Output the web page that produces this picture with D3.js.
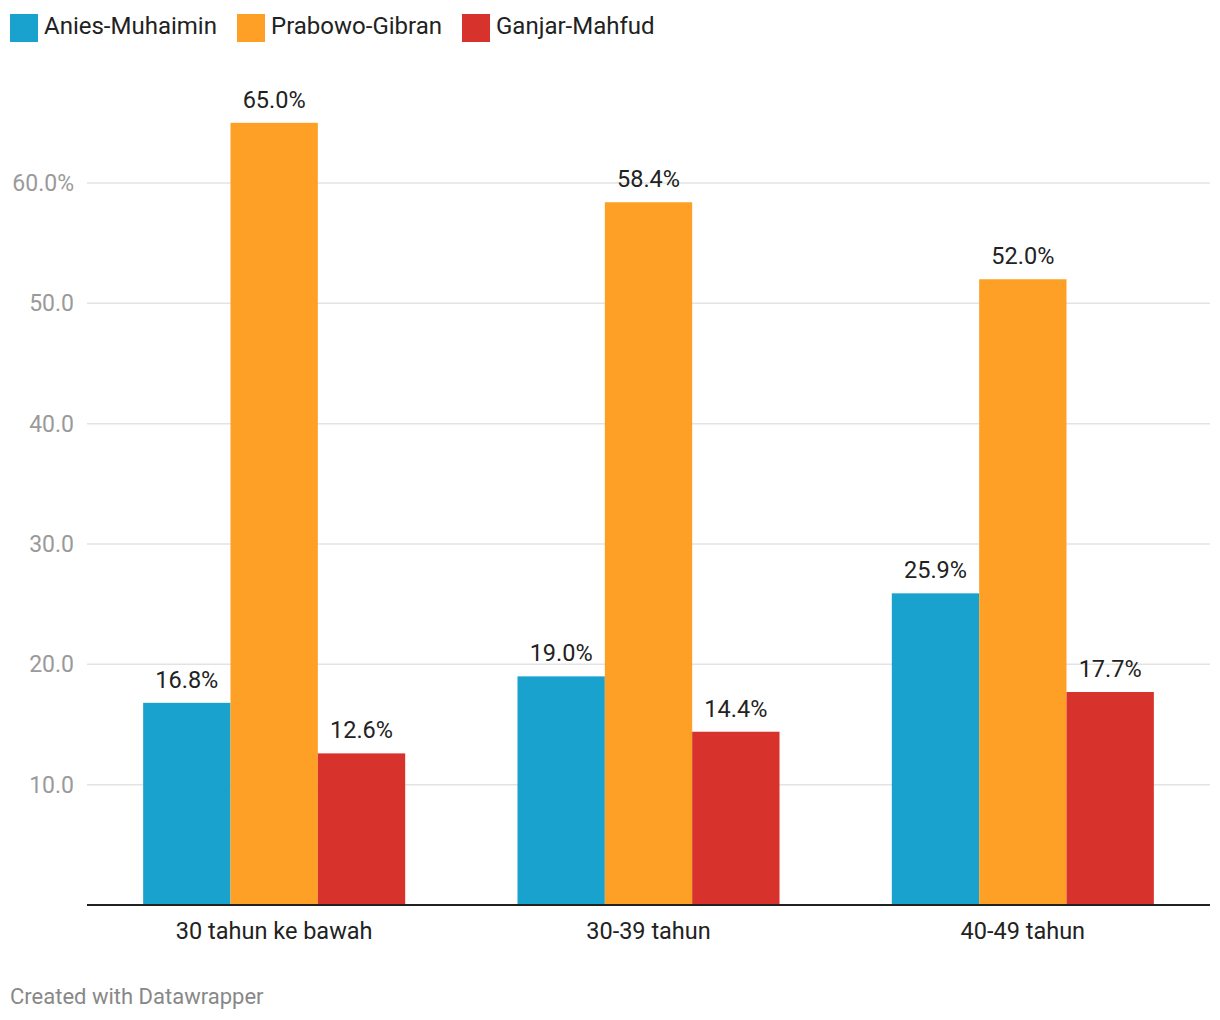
<!DOCTYPE html>
<meta charset="utf-8">
<script src="https://d3js.org/d3.v7.min.js"></script>
<style>
  body { margin: 0; background: #fff; }
  text { font-family: Roboto, "Noto Sans", sans-serif; }
</style>
<div id="chart"></div>
<script>

// data
var groups = ["30 tahun ke bawah", "30-39 tahun", "40-49 tahun"];
var series = ["Anies-Muhaimin", "Prabowo-Gibran", "Ganjar-Mahfud"];
var colors = ["#1aa2ce", "#fea026", "#d8322c"];
var anies = [16.8, 19.0, 25.9];
var prabowo = [65.0, 58.4, 52.0];
var ganjar = [12.6, 14.4, 17.7];
var yTicks = [10, 20, 30, 40, 50, 60];

var values = [anies, prabowo, ganjar];

var W = 1220, H = 1020;
var margin = {top: 0, left: 87, right: 10};
var plotBottom = 905;

var svg = d3.select("#chart").append("svg")
  .attr("width", W)
  .attr("height", H);

// legend
var lx = [10, 237, 462];
var legend = svg.selectAll(".leg")
  .data(series)
  .enter().append("g")
  .attr("transform", function(d, i) { return "translate(" + lx[i] + ",14)"; });
legend.append("rect")
  .attr("width", 28).attr("height", 28)
  .attr("fill", function(d, i) { return colors[i]; });
legend.append("text")
  .attr("x", 34).attr("y", 20)
  .attr("font-size", 24)
  .attr("fill", "#222")
  .text(function(d) { return d; });

// scales
var x = d3.scaleBand()
  .domain(groups)
  .range([margin.left, W - margin.right])
  .paddingInner(0.3)
  .paddingOuter(0.15);

var xs = d3.scaleBand()
  .domain(series)
  .range([0, x.bandwidth()]);

var y = d3.scaleLinear()
  .domain([0, 60])
  .range([plotBottom, 183]);

// gridlines + tick labels
var grid = svg.append("g");
grid.selectAll("line")
  .data(yTicks)
  .enter().append("line")
  .attr("x1", margin.left).attr("x2", W - margin.right)
  .attr("y1", function(d) { return y(d); })
  .attr("y2", function(d) { return y(d); })
  .attr("stroke", "#e3e3e3")
  .attr("stroke-width", 1.5);

grid.selectAll("text")
  .data(yTicks)
  .enter().append("text")
  .attr("x", 74)
  .attr("y", function(d) { return y(d); })
  .attr("dy", "0.35em")
  .attr("text-anchor", "end")
  .attr("font-size", 23)
  .attr("fill", "#9a9a9a")
  .text(function(d) { return d.toFixed(1) + (d === 60 ? "%" : ""); });

// bars
var g = svg.selectAll(".grp")
  .data(groups)
  .enter().append("g")
  .attr("transform", function(d) { return "translate(" + x(d) + ",0)"; });

series.forEach(function(s, si) {
  g.append("rect")
    .attr("x", xs(s))
    .attr("width", xs.bandwidth())
    .attr("y", function(d, gi) { return y(values[si][gi]); })
    .attr("height", function(d, gi) { return plotBottom - y(values[si][gi]); })
    .attr("fill", colors[si]);

  g.append("text")
    .attr("x", xs(s) + xs.bandwidth() / 2)
    .attr("y", function(d, gi) { return y(values[si][gi]) - 15; })
    .attr("text-anchor", "middle")
    .attr("font-size", 23.5)
    .attr("fill", "#222")
    .text(function(d, gi) { return values[si][gi].toFixed(1) + "%"; });
});

// x axis
svg.append("line")
  .attr("x1", margin.left).attr("x2", W - margin.right)
  .attr("y1", plotBottom).attr("y2", plotBottom)
  .attr("stroke", "#222")
  .attr("stroke-width", 2);

svg.selectAll(".xlab")
  .data(groups)
  .enter().append("text")
  .attr("x", function(d) { return x(d) + x.bandwidth() / 2; })
  .attr("y", 939)
  .attr("text-anchor", "middle")
  .attr("font-size", 23.5)
  .attr("fill", "#222")
  .text(function(d) { return d; });

// footer
svg.append("text")
  .attr("x", 10).attr("y", 1004)
  .attr("font-size", 22)
  .attr("fill", "#888")
  .text("Created with Datawrapper");

</script>
